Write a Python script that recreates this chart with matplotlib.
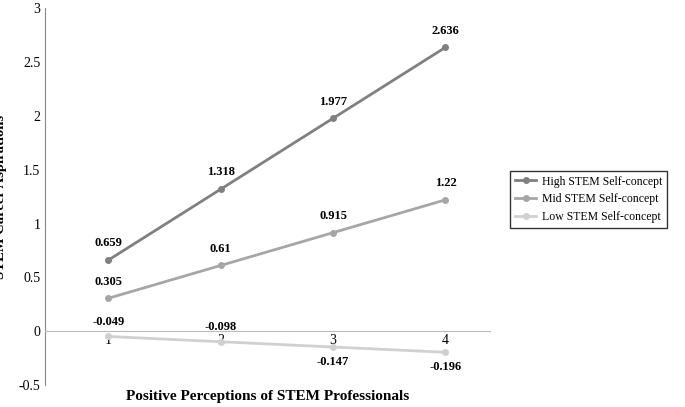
import matplotlib
matplotlib.use("Agg")
import matplotlib.pyplot as plt

x = [1, 2, 3, 4]
high = [0.659, 1.318, 1.977, 2.636]
mid = [0.305, 0.61, 0.915, 1.22]
low = [-0.049, -0.098, -0.147, -0.196]
names = ["High STEM Self-concept", "Mid STEM Self-concept", "Low STEM Self-concept"]
colors = ["#808080", "#a6a6a6", "#d0d0d0"]

plt.rcParams["font.family"] = "Liberation Serif"
fig = plt.figure(figsize=(6.85, 4.07), dpi=100)
ax = fig.add_axes([0.066, 0.054, 0.65, 0.926])
for ys, n, c in zip([high, mid, low], names, colors):
    ax.plot(x, ys, color=c, lw=2, marker="o", ms=4, label=n)
for xi, v in zip(x, high):
    ax.text(xi, v + 0.1, f"{v:g}", ha="center", va="bottom", fontsize=9, fontweight="bold")
for xi, v in zip(x, mid):
    ax.text(xi, v + 0.1, f"{v:g}", ha="center", va="bottom", fontsize=9, fontweight="bold")
for i, (xi, v) in enumerate(zip(x, low)):
    if i < 2:
        ax.text(xi, v + 0.08, f"{v:g}", ha="center", va="bottom", fontsize=9, fontweight="bold")
    else:
        ax.text(xi, v - 0.08, f"{v:g}", ha="center", va="top", fontsize=9, fontweight="bold")
ax.set_xlim(0.44, 4.4)
ax.set_ylim(-0.5, 3)
ax.set_yticks([-0.5, 0, 0.5, 1, 1.5, 2, 2.5, 3])
ax.set_yticklabels(["-0.5", "0", "0.5", "1", "1.5", "2", "2.5", "3"], fontsize=10)
ax.set_xticks(x)
ax.set_xticklabels(["1", "2", "3", "4"], fontsize=9)
ax.spines["top"].set_visible(False)
ax.spines["right"].set_visible(False)
ax.spines["bottom"].set_position(("data", 0))
ax.spines["bottom"].set_color("#bbbbbb")
ax.spines["left"].set_color("#888888")
ax.tick_params(axis="x", length=0, pad=2)
ax.tick_params(axis="y", length=0)
ax.set_ylabel("STEM Career Aspirations", fontsize=10.5, fontweight="bold")
ax.yaxis.set_label_coords(-0.085, 0.5)
fig.text(0.39, 0.01, "Positive Perceptions of STEM Professionals", ha="center", va="bottom",
         fontsize=11, fontweight="bold")
fig.legend(loc="center left", bbox_to_anchor=(0.745, 0.51), fontsize=8.5,
           frameon=True, fancybox=False, edgecolor="black", borderpad=0.4,
           handlelength=1.8, handletextpad=0.5, borderaxespad=0)
fig.savefig("out.png", dpi=100)
